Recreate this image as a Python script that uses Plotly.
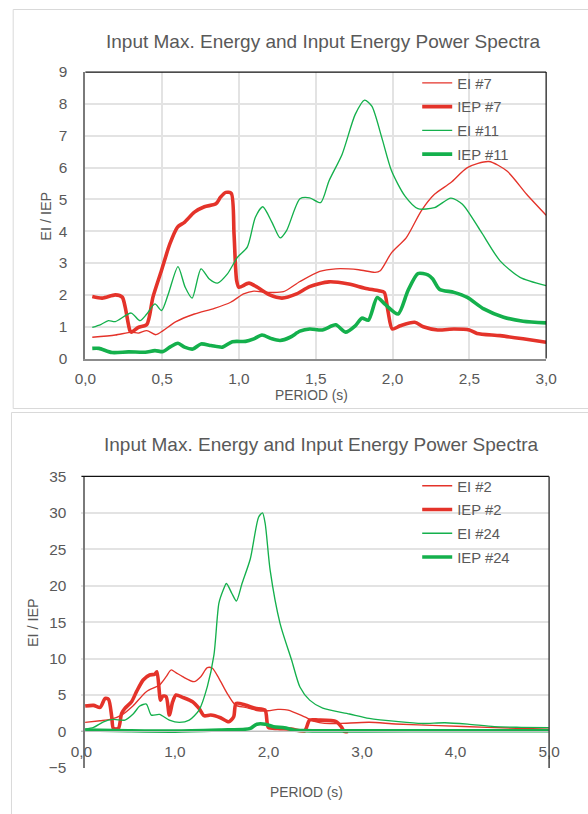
import plotly.graph_objects as go

# ---------------- data: top chart ----------------
T_EI7 = [0.045,0.195,0.30,0.345,0.40,0.46,0.506,0.59,0.71,0.84,0.946,1.03,1.097,1.18,1.29,1.397,1.526,1.63,1.78,1.886,1.92,1.994,2.09,2.187,2.273,2.38,2.487,2.627,2.745,2.873,3.0]
V_EI7 = [0.67,0.74,0.83,0.80,0.88,0.75,0.88,1.16,1.40,1.58,1.77,2.03,2.12,2.08,2.10,2.42,2.74,2.82,2.79,2.71,2.76,3.33,3.80,4.64,5.16,5.53,6.00,6.19,5.89,5.16,4.50]

T_IEP7 = [0.045,0.11,0.195,0.24,0.26,0.29,0.30,0.345,0.40,0.44,0.495,0.55,0.60,0.645,0.71,0.775,0.85,0.88,0.915,0.95,0.968,0.985,1.0,1.065,1.12,1.20,1.28,1.375,1.46,1.586,1.715,1.82,1.91,1.946,1.97,1.998,2.05,2.144,2.20,2.294,2.40,2.50,2.55,2.70,2.85,3.0]
V_IEP7 = [1.95,1.90,2.00,1.93,1.60,0.88,0.83,0.98,1.07,1.93,2.76,3.60,4.13,4.28,4.60,4.77,4.86,5.07,5.22,5.19,3.90,2.45,2.24,2.37,2.24,2.00,1.90,2.03,2.26,2.41,2.34,2.21,2.13,2.08,1.50,0.93,1.03,1.14,1.00,0.90,0.93,0.90,0.79,0.72,0.62,0.51]

T_EI11 = [0.045,0.10,0.15,0.195,0.298,0.356,0.40,0.453,0.496,0.54,0.603,0.65,0.695,0.753,0.807,0.86,0.925,0.99,1.054,1.107,1.155,1.215,1.268,1.31,1.397,1.46,1.532,1.586,1.672,1.757,1.818,1.865,1.93,1.994,2.08,2.165,2.273,2.38,2.455,2.573,2.70,2.83,3.0]
V_EI11 = [0.98,1.07,1.19,1.16,1.43,1.19,1.40,1.72,1.51,2.03,2.89,2.24,1.90,2.82,2.50,2.37,2.66,3.18,3.50,4.44,4.77,4.28,3.79,4.02,5.02,5.05,4.90,5.58,6.42,7.67,8.12,7.93,6.94,5.89,5.11,4.71,4.74,5.04,4.85,4.01,3.07,2.55,2.29]

T_IEP11 = [0.045,0.088,0.174,0.28,0.39,0.453,0.506,0.55,0.603,0.646,0.70,0.753,0.818,0.893,0.957,1.043,1.097,1.15,1.215,1.268,1.333,1.397,1.461,1.543,1.63,1.693,1.757,1.80,1.843,1.90,1.95,2.036,2.10,2.165,2.23,2.262,2.305,2.40,2.487,2.594,2.723,2.85,3.0]
V_IEP11 = [0.32,0.32,0.19,0.21,0.20,0.25,0.22,0.36,0.48,0.36,0.30,0.46,0.41,0.36,0.53,0.54,0.62,0.74,0.62,0.57,0.67,0.86,0.93,0.90,1.06,0.83,1.03,1.27,1.21,1.92,1.71,1.40,2.13,2.67,2.63,2.50,2.18,2.08,1.92,1.56,1.30,1.17,1.12]

# ---------------- data: bottom chart ----------------
T_EI2 = [0.04,0.2,0.307,0.43,0.553,0.694,0.835,0.906,0.96,1.01,1.082,1.205,1.276,1.346,1.40,1.47,1.558,1.646,1.752,1.893,1.999,2.10,2.21,2.386,2.49,2.60,2.76,3.076,3.36,3.82,4.34,5.0]
V_EI2 = [1.24,1.47,1.65,2.25,3.53,5.46,6.38,7.52,8.44,8.07,7.52,6.83,7.52,8.76,8.67,7.29,5.23,3.62,3.30,2.84,2.84,3.03,2.94,2.00,1.40,1.10,1.10,1.26,1.03,0.80,0.57,0.30]

T_IEP2 = [0.04,0.13,0.2,0.254,0.29,0.324,0.342,0.395,0.43,0.465,0.536,0.589,0.66,0.73,0.782,0.807,0.846,0.87,0.906,0.94,0.976,1.012,1.082,1.188,1.258,1.311,1.382,1.487,1.576,1.628,1.653,1.752,1.858,1.963,1.999,2.10,2.245,2.386,2.44,2.53,2.724,2.777,2.81,2.85]
V_IEP2 = [3.49,3.58,3.30,4.54,4.40,2.02,0.41,0.41,2.48,3.17,4.08,5.46,7.06,7.75,7.84,8.20,4.30,4.86,4.77,2.25,4.08,5.00,4.68,4.08,3.17,2.16,2.25,1.88,1.33,2.02,3.85,3.62,3.17,2.94,0.55,0.41,0.32,0.09,1.56,1.56,1.35,0.66,0.0,0.0]

T_EI24 = [0.04,0.13,0.236,0.34,0.465,0.553,0.624,0.694,0.747,0.835,0.94,1.047,1.153,1.258,1.346,1.417,1.47,1.516,1.55,1.61,1.657,1.717,1.806,1.894,1.936,1.965,2.018,2.124,2.247,2.336,2.44,2.58,2.865,3.076,3.39,3.64,3.886,4.13,4.415,4.70,5.0]
V_EI24 = [0.3,0.55,1.33,1.65,1.56,2.39,3.49,3.76,2.25,2.34,1.56,1.24,1.56,2.94,6.15,10.5,17.6,19.4,20.3,18.9,17.9,20.3,23.7,29.4,30.0,28.5,22.1,14.8,9.8,6.1,4.3,3.2,2.4,1.8,1.35,1.1,1.2,1.0,0.66,0.57,0.52]

T_IEP24 = [0.04,0.5,1.0,1.5,1.75,1.806,1.876,1.965,2.053,2.17,2.265,2.386,2.6,3.0,4.0,5.0]
V_IEP24 = [0.2,0.1,0.05,0.2,0.3,0.43,1.0,1.0,0.66,0.5,0.2,0.12,0.08,0.08,0.1,0.1]

NAMES_TOP = ["EI #7", "IEP #7", "EI #11", "IEP #11"]
NAMES_BOT = ["EI #2", "IEP #2", "EI #24", "IEP #24"]
TITLE = "Input Max. Energy and Input Energy Power Spectra"

RED = "#e4332a"
GREEN = "#14b04c"
GRAY_TXT = "#595959"
GRID = "#e3e3e3"
FONT = "Liberation Sans, Arial, sans-serif"

W, H = 588, 814
# the page adds an 8px body margin and the photo is scaled back to 588x814,
# so screen targets are mapped to figure coordinates here
SX = (W + 16) / W
SY = (H + 16) / H
def fx(t):
    return t * SX - 8
def fy(t):
    return t * SY - 8
def px(t):
    return max(0.0, fx(t)) / W
def py(t):
    return 1 - max(0.0, fy(t)) / H

fig = go.Figure()

def add(t, v, name, color, width, xa, ya, legend, grp):
    fig.add_trace(go.Scatter(
        x=t, y=v, name=name, mode="lines",
        line=dict(color=color, width=width, shape="spline", smoothing=0.7),
        xaxis=xa, yaxis=ya, legend=legend, legendgroup=grp,
        hoverinfo="skip"))

add(T_EI7, V_EI7, NAMES_TOP[0], RED, 1.35, "x", "y", "legend", "a1")
add(T_IEP7, V_IEP7, NAMES_TOP[1], RED, 3.6, "x", "y", "legend", "a2")
add(T_EI11, V_EI11, NAMES_TOP[2], GREEN, 1.35, "x", "y", "legend", "a3")
add(T_IEP11, V_IEP11, NAMES_TOP[3], GREEN, 3.6, "x", "y", "legend", "a4")

add(T_EI2, V_EI2, NAMES_BOT[0], RED, 1.35, "x3", "y2", "legend2", "b1")
add(T_IEP2, V_IEP2, NAMES_BOT[1], RED, 3.6, "x3", "y2", "legend2", "b2")
add(T_EI24, V_EI24, NAMES_BOT[2], GREEN, 1.35, "x3", "y2", "legend2", "b3")
add(T_IEP24, V_IEP24, NAMES_BOT[3], GREEN, 3.6, "x3", "y2", "legend2", "b4")

tickfont = dict(family=FONT, size=15.4, color=GRAY_TXT)

top_xd = [px(83), px(549)]
top_yd = [py(358), py(71)]
bot_xd = [px(79), px(552)]
bot_yd = [py(768), py(476)]

fig.update_layout(
    width=W, height=H,
    margin=dict(l=0, r=0, t=0, b=0),
    paper_bgcolor="white", plot_bgcolor="white",
    separators=",.",
    font=dict(family=FONT, color=GRAY_TXT),
    xaxis=dict(domain=top_xd, anchor="y", range=[0, 3], dtick=0.5, tick0=0,
               tickformat=".1f", showgrid=True, gridcolor=GRID, gridwidth=1.5,
               showline=True, linecolor="#8c8c8c", linewidth=1.5,
               ticks="", tickfont=tickfont, ticklabelstandoff=5, zeroline=False),
    yaxis=dict(domain=top_yd, anchor="x", range=[0, 9], dtick=1,
               showgrid=True, gridcolor=GRID, gridwidth=1.5,
               showline=True, linecolor="#7a7a7a", linewidth=2,
               ticks="", tickfont=tickfont, ticklabelstandoff=13, zeroline=False),
    xaxis2=dict(domain=bot_xd, anchor="y2", range=[0, 5], dtick=1, tick0=0,
                showticklabels=False, showgrid=True, gridcolor=GRID, gridwidth=1.5,
                showline=True, linecolor="#555555", linewidth=1.5,
                ticks="", zeroline=False),
    xaxis3=dict(domain=bot_xd, overlaying="x2", anchor="free",
                position=py(731.5), range=[0, 5], dtick=1, tick0=0,
                tickformat=".1f", showgrid=False, showline=True,
                linecolor="#bfbfbf", linewidth=1, ticks="",
                tickfont=tickfont, ticklabelstandoff=6, zeroline=False),
    yaxis2=dict(domain=bot_yd, anchor="x2", range=[-5, 35], dtick=5, tick0=0,
                showgrid=True, gridcolor=GRID, gridwidth=1.5,
                showline=True, linecolor="#7a7a7a", linewidth=2,
                ticks="", tickfont=tickfont, ticklabelstandoff=14, zeroline=False),
    legend=dict(x=422 / W, y=1 - 59 / H, xanchor="left", yanchor="top",
                bgcolor="rgba(0,0,0,0)", borderwidth=0,
                traceorder="grouped", tracegroupgap=1.5,
                font=dict(family=FONT, size=14.8, color=GRAY_TXT)),
    legend2=dict(x=422 / W, y=1 - 470.5 / H, xanchor="left", yanchor="top",
                 bgcolor="rgba(0,0,0,0)", borderwidth=0,
                 traceorder="grouped", tracegroupgap=1.5,
                 font=dict(family=FONT, size=14.8, color=GRAY_TXT)),
)

# chart frames and plot-area top/right borders
shapes = [
    dict(type="rect", xref="paper", yref="paper", x0=px(10), x1=px(640), y0=py(408), y1=1 - 0.5 / H,
         line=dict(color="#d9d9d9", width=1), layer="below"),
    dict(type="rect", xref="paper", yref="paper", x0=0.5 / W, x1=px(640), y0=-0.05, y1=py(412),
         line=dict(color="#d9d9d9", width=1), layer="below"),
    dict(type="line", xref="paper", yref="paper", x0=top_xd[0], x1=top_xd[1], y0=top_yd[1], y1=top_yd[1],
         line=dict(color="#111111", width=1.2)),
    dict(type="line", xref="paper", yref="paper", x0=top_xd[1], x1=top_xd[1], y0=top_yd[0], y1=top_yd[1],
         line=dict(color="#111111", width=1.2)),
    dict(type="line", xref="paper", yref="paper", x0=bot_xd[0], x1=bot_xd[1], y0=bot_yd[1], y1=bot_yd[1],
         line=dict(color="#111111", width=1.2)),
    dict(type="line", xref="paper", yref="paper", x0=bot_xd[1], x1=bot_xd[1], y0=bot_yd[0], y1=bot_yd[1],
         line=dict(color="#444444", width=1.5)),
]
fig.update_layout(shapes=shapes)

ann = [
    dict(text=TITLE, x=px(324), y=py(40), font=dict(family=FONT, size=19, color=GRAY_TXT)),
    dict(text=TITLE, x=px(322), y=py(444), font=dict(family=FONT, size=19, color=GRAY_TXT)),
    dict(text="PERIOD (s)", x=px(312), y=py(395), font=dict(family=FONT, size=13.8, color=GRAY_TXT)),
    dict(text="PERIOD (s)", x=px(307), y=py(793), font=dict(family=FONT, size=13.8, color=GRAY_TXT)),
    dict(text="EI / IEP", x=px(43), y=py(215), textangle=-90, font=dict(family=FONT, size=14.4, color=GRAY_TXT)),
    dict(text="EI / IEP", x=px(30), y=py(622), textangle=-90, font=dict(family=FONT, size=14.4, color=GRAY_TXT)),
]
for a in ann:
    a.update(xref="paper", yref="paper", showarrow=False, xanchor="center", yanchor="middle")
fig.update_layout(annotations=ann)

fig.write_html("out.html")
